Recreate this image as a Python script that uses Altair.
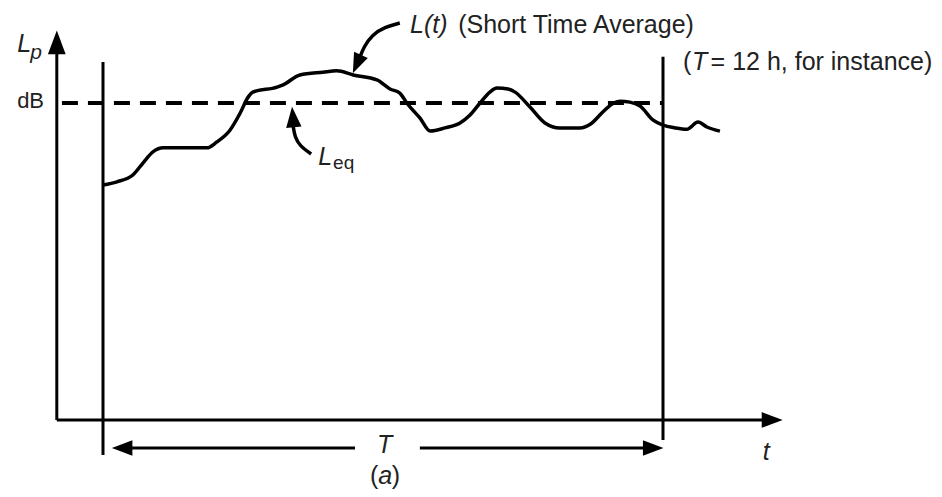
import altair as alt
import pandas as pd

# ---------------- data ----------------
# short-time average level L(t): time in hours, level in dB
time_h = [0, 0.30, 0.64, 0.86, 1.07, 1.29, 2.23, 2.44, 2.72, 2.94, 3.11, 3.21, 3.73,
          3.86, 4.22, 4.71, 5.01, 5.36, 5.87, 6.15, 6.36, 6.51, 6.79, 7.01, 7.33,
          7.65, 7.86, 8.08, 8.29, 8.44, 8.68, 8.83, 9.15, 9.47, 9.79, 10.22, 10.44,
          10.71, 10.91, 11.08, 11.29, 11.51, 11.79, 12.0, 12.26, 12.51, 12.75,
          12.94, 13.22]
level_db = [51.9, 52.6, 54.1, 56.8, 59.2, 60.1, 60.1, 61.4, 64.0, 67.8, 71.3, 72.4,
            73.5, 74.0, 76.2, 76.8, 77.1, 76.2, 75.1, 73.1, 72.2, 70.0, 66.7, 63.8,
            64.5, 65.6, 67.3, 70.0, 72.4, 73.3, 73.1, 72.4, 69.1, 65.6, 64.5, 64.5,
            65.3, 68.0, 69.8, 70.4, 70.2, 69.3, 66.2, 65.1, 64.5, 64.2, 65.8, 64.7,
            63.8]
leq_db = 70.0          # equivalent level (dashed line)
period_h = [0.0, 12.0]  # start / end of averaging time T

# texts
upright_texts = ["dB", "(Short Time Average)", "(", "= 12 h, for instance)", "eq", "(", ")"]
italic_texts = ["L", "p", "L(t)", "T", "L", "T", "t", "a"]

# ---------------- layout (data units: hours / dB) ----------------
X_DOM = [-2.0357, 17.807]
Y_DOM = [-15.24, 90.98]
AX_T = -0.99            # position of the level axis
AX_TOP = 84.0
AX_RIGHT = 14.2
T_ARROW_L = -6.18

upright_pos = dict(t=[-1.84, 7.61, 12.43, 13.02, 4.93, 5.72, 6.19],
                   L=[68.9, 85.46, 77.29, 77.29, 55.4, -14.13, -14.13],
                   size=[22, 25, 25, 25, 19, 25, 25])
italic_pos = dict(t=[-1.84, -1.56, 6.58, 12.62, 4.61, 5.87, 14.14, 5.90],
                  L=[81.3, 79.7, 85.46, 77.29, 56.3, -7.29, -8.83, -14.13],
                  size=[25, 21, 25, 25, 25, 25, 25, 25])

xs = alt.Scale(domain=X_DOM, zero=False, nice=False)
ys = alt.Scale(domain=Y_DOM, zero=False, nice=False)
X = lambda f: alt.X(f, type="quantitative", scale=xs, axis=None)
Y = lambda f: alt.Y(f, type="quantitative", scale=ys, axis=None)

curve_df = pd.DataFrame({"t": time_h, "L": level_db})
curve = alt.Chart(curve_df).mark_line(
    color="black", strokeWidth=3.5, interpolate="monotone", strokeJoin="round"
).encode(x=X("t"), y=Y("L"))

leq_df = pd.DataFrame({"t": [-0.88], "t2": [period_h[1]], "L": [leq_db]})
leq = alt.Chart(leq_df).mark_rule(color="black", strokeWidth=4, strokeDash=[16, 10]).encode(
    x=X("t"), x2="t2", y=Y("L"))

# vertical lines (axis + period limits)
vlines_df = pd.DataFrame({"t": [AX_T, period_h[0], period_h[1]],
                          "L": [0, -7.73, -4.42], "L2": [AX_TOP, 79.05, 80.2]})
vlines = alt.Chart(vlines_df).mark_rule(color="black", strokeWidth=3).encode(
    x=X("t"), y=Y("L"), y2="L2")

# horizontal lines (time axis + T span)
hlines_df = pd.DataFrame({"t": [AX_T, 0.3, 6.79], "t2": [AX_RIGHT, 5.4, 11.7],
                          "L": [0, T_ARROW_L, T_ARROW_L]})
hlines = alt.Chart(hlines_df).mark_rule(color="black", strokeWidth=3).encode(
    x=X("t"), x2="t2", y=Y("L"))

# arrow heads
head_path = "M0,-1L0.75,1L-0.75,1Z"
heads_df = pd.DataFrame({
    "t": [AX_T, 14.34, 0.41, 11.79, 5.44, 4.07],
    "L": [83.4, 0, T_ARROW_L, T_ARROW_L, 78.6, 66.9],
    "ang": [0, 90, 270, 90, 204, 355],
    "sz": [560, 440, 420, 420, 400, 420],
})
heads = alt.Chart(heads_df).mark_point(
    shape=head_path, filled=True, color="black", opacity=1, strokeWidth=0
).encode(x=X("t"), y=Y("L"), angle=alt.Angle("ang:Q", scale=None),
         size=alt.Size("sz:Q", scale=None))

# curved pointers
ptr_df = pd.DataFrame({
    "id": ["a"] * 5 + ["b"] * 4,
    "o": list(range(5)) + list(range(4)),
    "t": [6.36, 6.04, 5.76, 5.59, 5.50, 4.07, 4.11, 4.22, 4.46],
    "L": [87.66, 86.78, 85.02, 82.37, 80.0, 65.2, 62.5, 60.5, 58.74],
})
pointers = alt.Chart(ptr_df).mark_line(
    color="black", strokeWidth=3.5, interpolate="basis"
).encode(x=X("t"), y=Y("L"), detail="id:N", order="o:Q")

font = "Liberation Sans"
up_df = pd.DataFrame({"text": upright_texts, **upright_pos})
it_df = pd.DataFrame({"text": italic_texts, **italic_pos})
up_text = alt.Chart(up_df).mark_text(
    align="left", baseline="alphabetic", font=font, color="#222"
).encode(x=X("t"), y=Y("L"), text="text:N", size=alt.Size("size:Q", scale=None))
it_text = alt.Chart(it_df).mark_text(
    align="left", baseline="alphabetic", font=font, fontStyle="italic", color="#222"
).encode(x=X("t"), y=Y("L"), text="text:N", size=alt.Size("size:Q", scale=None))

chart = alt.layer(curve, leq, vlines, hlines, pointers, heads, up_text, it_text).properties(
    width=926, height=481, padding=0, autosize=alt.AutoSizeParams(type="none"),
    background="white"
).configure_view(stroke=None)

chart.save("out.html", embed_options={"renderer": "svg", "actions": False})
